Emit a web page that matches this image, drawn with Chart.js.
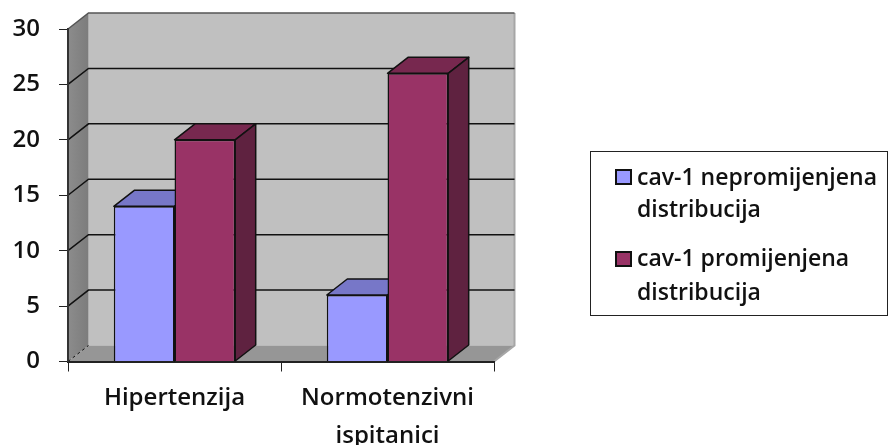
<!DOCTYPE html>
<html>
<head>
<meta charset="utf-8">
<style>
html, body { margin: 0; padding: 0; background: #fff; }
canvas { display: block; filter: blur(0.4px); }
</style>
<script src="https://cdn.jsdelivr.net/npm/chart.js@4/dist/chart.umd.min.js"></script>
</head>
<body>
<canvas id="chart" width="889" height="445"></canvas>
<script>
var categories = ['Hipertenzija', ['Normotenzivni', 'ispitanici']];
var unchangedValues = [14, 6];
var changedValues = [20, 26];
var seriesNames = ['cav-1 nepromijenjena distribucija', 'cav-1 promijenjena distribucija'];
var legendLines = [['cav-1 nepromijenjena', 'distribucija'], ['cav-1 promijenjena', 'distribucija']];

var FONT = '"Open Sans", "Noto Sans", sans-serif';
var DEPTH_X = 20.5;
var DEPTH_Y = 16;

function poly(ctx, pts, fill, stroke, lw) {
    ctx.beginPath();
    pts.forEach(function (p, i) {
        if (i === 0) ctx.moveTo(p[0], p[1]);
        else ctx.lineTo(p[0], p[1]);
    });
    ctx.closePath();
    if (fill) {
        ctx.fillStyle = fill;
        ctx.fill();
    }
    if (stroke) {
        ctx.strokeStyle = stroke;
        ctx.lineWidth = lw || 1;
        ctx.stroke();
    }
}

// back wall, side wall, floor and the bent gridlines
var wallsPlugin = {
    id: 'walls',
    beforeDraw: function (chart) {
        var ctx = chart.ctx;
        var a = chart.chartArea;
        var y = chart.scales.y;
        var bx = a.left + DEPTH_X, rx = a.right + DEPTH_X;
        var t = a.top - DEPTH_Y, b = a.bottom - DEPTH_Y;
        ctx.save();
        poly(ctx, [[bx, t], [rx, t], [rx, b], [bx, b]], '#c0c0c0');
        var g = ctx.createLinearGradient(a.left, 0, bx, 0);
        g.addColorStop(0, '#8c8c8c');
        g.addColorStop(1, '#7c7c7c');
        poly(ctx, [[a.left, a.top], [bx, t], [bx, b], [a.left, a.bottom]], g);
        poly(ctx, [[a.left, a.bottom], [bx, b], [rx, b], [a.right, a.bottom]], '#969696');

        ctx.strokeStyle = '#a6a6a6';
        ctx.lineWidth = 2;
        ctx.beginPath();
        ctx.moveTo(rx, t);
        ctx.lineTo(rx, b);
        ctx.lineTo(a.right, a.bottom);
        ctx.stroke();

        ctx.strokeStyle = '#555';
        ctx.lineWidth = 1.5;
        ctx.beginPath();
        ctx.moveTo(a.left, a.top);
        ctx.lineTo(bx, t);
        ctx.lineTo(rx, t);
        ctx.stroke();

        ctx.strokeStyle = '#111';
        y.ticks.forEach(function (tick) {
            if (tick.value === 0 || tick.value === y.max) return;
            var py = y.getPixelForValue(tick.value);
            ctx.beginPath();
            ctx.moveTo(a.left, py);
            ctx.lineTo(bx, py - DEPTH_Y);
            ctx.lineTo(rx, py - DEPTH_Y);
            ctx.stroke();
        });

        ctx.setLineDash([3, 3]);
        ctx.lineWidth = 1;
        ctx.beginPath();
        ctx.moveTo(a.left, a.bottom);
        ctx.lineTo(bx, b);
        ctx.stroke();
        ctx.restore();
    },
    // top and side faces go under all the fronts, so the red front hides the blue top
    beforeDatasetsDraw: function (chart) {
        var ctx = chart.ctx;
        ctx.save();
        ctx.lineJoin = 'round';
        chart.data.datasets.forEach(function (ds, i) {
            chart.getDatasetMeta(i).data.forEach(function (bar) {
                var l = bar.x - bar.width / 2, r = bar.x + bar.width / 2;
                poly(ctx, [[l, bar.y], [l + DEPTH_X, bar.y - DEPTH_Y], [r + DEPTH_X, bar.y - DEPTH_Y], [r, bar.y]], ds.topColor, '#111', 1.5);
                poly(ctx, [[r, bar.y], [r + DEPTH_X, bar.y - DEPTH_Y], [r + DEPTH_X, bar.base - DEPTH_Y], [r, bar.base]], ds.sideColor, '#111', 1.5);
            });
        });
        ctx.restore();
    }
};

var legendPlugin = {
    id: 'boxLegend',
    afterDraw: function (chart) {
        var ctx = chart.ctx;
        ctx.save();
        ctx.fillStyle = '#fff';
        ctx.fillRect(590.5, 151.5, 297, 164);
        ctx.strokeStyle = '#222';
        ctx.lineWidth = 1;
        ctx.strokeRect(590.5, 151.5, 297, 164);

        var swatchY = [170, 252];
        var lineY = [[178, 210], [259, 293]];
        ctx.textBaseline = 'middle';
        ctx.font = '600 23px ' + FONT;
        chart.data.datasets.forEach(function (ds, i) {
            ctx.fillStyle = ds.backgroundColor;
            ctx.strokeStyle = '#111';
            ctx.lineWidth = 2;
            ctx.fillRect(616, swatchY[i], 15, 14);
            ctx.strokeRect(616, swatchY[i], 15, 14);
            ctx.fillStyle = '#111';
            legendLines[i].forEach(function (line, j) {
                ctx.fillText(line, 637, lineY[i][j]);
            });
        });
        ctx.restore();
    }
};

new Chart(document.getElementById('chart'), {
    type: 'bar',
    data: {
        labels: categories,
        datasets: [{
            label: seriesNames[0],
            data: unchangedValues,
            backgroundColor: '#9999ff',
            topColor: '#7777c8',
            sideColor: '#6a6ab0',
            borderColor: '#111',
            borderWidth: 1.5
        }, {
            label: seriesNames[1],
            data: changedValues,
            backgroundColor: '#993366',
            topColor: '#77284f',
            sideColor: '#5f2240',
            borderColor: '#111',
            borderWidth: 1.5
        }]
    },
    options: {
        responsive: false,
        animation: false,
        layout: {padding: {top: 29, right: 395, left: 0, bottom: 0}},
        categoryPercentage: 0.57,
        barPercentage: 1,
        plugins: {legend: {display: false}, tooltip: {enabled: false}},
        scales: {
            x: {
                afterFit: function (s) {
                    s.height = 83.5;
                    s.paddingLeft = 0;
                    s.paddingRight = 0;
                },
                grid: {drawOnChartArea: false, tickLength: 10, color: '#222', lineWidth: 1},
                border: {color: '#222', width: 2},
                ticks: {
                    color: '#111',
                    padding: 8,
                    maxRotation: 0,
                    autoSkip: false,
                    font: {family: FONT, size: 24, weight: '600', lineHeight: 1.58}
                }
            },
            y: {
                min: 0,
                max: 30,
                afterFit: function (s) {
                    s.width = 68;
                    s.paddingTop = 0;
                    s.paddingBottom = 0;
                },
                grid: {drawOnChartArea: false, tickLength: 9, color: '#222', lineWidth: 1},
                border: {color: '#333', width: 2},
                ticks: {
                    stepSize: 5,
                    color: '#111',
                    padding: 19,
                    font: {family: FONT, size: 24, weight: '600'}
                }
            }
        }
    },
    plugins: [wallsPlugin, legendPlugin]
});
</script>
</body>
</html>
